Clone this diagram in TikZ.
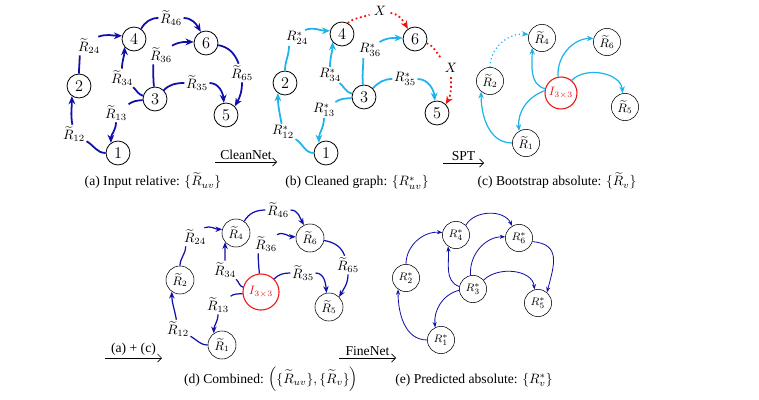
\documentclass[tikz,border=0pt]{standalone}
\usepackage{amsmath}
\usepackage{amssymb}
\usepackage[no-math]{fontspec}
\setmainfont{Liberation Serif}
\usepackage{tikz}
\usetikzlibrary{arrows.meta,positioning}
\definecolor{gblue}{RGB}{15,15,170}
\definecolor{gcyan}{RGB}{30,180,235}
\definecolor{gred}{RGB}{240,20,20}

\begin{document}
\begin{tikzpicture}[x=0.735pt,y=-0.735pt,
  vtx/.style={circle,draw,semithick,minimum size=17.6pt,inner sep=0pt,font=\large},
  absvtx/.style={circle,draw,thin,minimum size=20pt,inner sep=0pt,font=\small},
  idvtx/.style={circle,draw=gred,thick,text=gred,minimum size=23.5pt,inner sep=0pt,font=\small},
  lbl/.style={inner sep=1pt},
  inA/.style={gblue,line width=1.3pt,-{Stealth[length=6pt,width=5pt]}},
  inB/.style={gcyan,line width=1.3pt,-{Stealth[length=6pt,width=5pt]}},
  outC/.style={gcyan,line width=0.9pt,-{Stealth[length=5pt,width=4pt]}},
  inD/.style={gblue,line width=0.9pt,-{Stealth[length=5pt,width=4pt]}},
  outE/.style={gblue,line width=0.6pt,-{Stealth[length=4pt,width=3pt]}},
  lost/.style={gred,dotted,line width=1.3pt},
  stage/.style={thin,-{Straight Barb[length=3pt]}},
  captxt/.style={anchor=base}]
  \useasboundingbox (0,0) rectangle (759,400);

  % (a) input relative rotations
  \node[vtx] (a1) at (118,153) {$1$};
  \node[vtx] (a2) at (79,86) {$2$};
  \node[vtx] (a3) at (155,99) {$3$};
  \node[vtx] (a4) at (134,39) {$4$};
  \node[vtx] (a5) at (226,115) {$5$};
  \node[vtx] (a6) at (206,43) {$6$};
  \node[lbl] (la12) at (74,134) {$\widetilde{R}_{12}$};
  \node[lbl] (la24) at (89,46) {$\widetilde{R}_{24}$};
  \node[lbl] (la46) at (171,18) {$\widetilde{R}_{46}$};
  \node[lbl] (la34) at (122,78) {$\widetilde{R}_{34}$};
  \node[lbl] (la36) at (161,55) {$\widetilde{R}_{36}$};
  \node[lbl] (la35) at (197,83) {$\widetilde{R}_{35}$};
  \node[lbl] (la13) at (116,113) {$\widetilde{R}_{13}$};
  \node[lbl] (la65) at (242,73) {$\widetilde{R}_{65}$};
  \draw[inA] (a1) to[out=180,in=-30] (la12) to[out=100,in=-90] (a2.-125);
  \draw[inA] (a2) to[out=90,in=-90] (la24.-135) (la24.45) to[out=20,in=180] (a4.165);
  \draw[inA] (a4.55) to[out=60,in=180] (la46) to[out=0,in=120] (a6.115);
  \draw[inA] (a3) to[out=165,in=-40] (la34) to[out=90,in=-90] (a4.-140);
  \draw[inA] (a3) to[out=185,in=35] (la13) to[out=-90,in=90] (a1.125);
  \draw[inA] (a3) to[out=95,in=-90] (la36.-130) (la36.40) to[out=30,in=180] (a6.175);
  \draw[inA] (a3) to[out=45,in=180] (la35) to[out=0,in=95] (a5.100);
  \draw[inA] (a6) to[out=-10,in=110] (la65) to[out=-90,in=60] (a5.45);
  \node[captxt] (capA) at (153,186) {(a) Input relative: $\{\widetilde{R}_{uv}\}$};

  % (b) cleaned graph
  \begin{scope}[shift={(208,-3)}]
    \node[vtx] (b1) at (118,156) {$1$};
    \node[vtx] (b2) at (77,86) {$2$};
    \node[vtx] (b3) at (156,100) {$3$};
    \node[vtx] (b4) at (134,37) {$4$};
    \node[vtx] (b5) at (229,116) {$5$};
    \node[vtx] (b6) at (207,42) {$6$};
    \node[lbl] (lb12) at (75,135) {$R^*_{12}$};
    \node[lbl] (lb24) at (89,41) {$R^*_{24}$};
    \node[lbl] (lb34) at (122,78) {$R^*_{34}$};
    \node[lbl] (lb36) at (162,53) {$R^*_{36}$};
    \node[lbl] (lb35) at (197,82) {$R^*_{35}$};
    \node[lbl] (lb13) at (116,113) {$R^*_{13}$};
    \node[lbl,inner sep=3pt] (bx1) at (172,14) {$X$};
    \node[lbl,inner sep=3pt] (bx2) at (243,71) {$X$};
    \draw[inB] (b1) to[out=180,in=-30] (lb12) to[out=100,in=-90] (b2.-125);
    \draw[inB] (b2) to[out=90,in=-90] (lb24.-135) (lb24.45) to[out=20,in=180] (b4.165);
    \draw[inB] (b3) to[out=165,in=-40] (lb34) to[out=90,in=-90] (b4.-140);
    \draw[inB] (b3) to[out=185,in=35] (lb13) to[out=-90,in=90] (b1.125);
    \draw[inB] (b3) to[out=95,in=-90] (lb36.-130) (lb36.40) to[out=30,in=180] (b6.175);
    \draw[inB] (b3) to[out=45,in=180] (lb35) to[out=0,in=95] (b5.100);
    % dropped edges
    \draw[lost] (b4.62) to[out=40,in=200] (bx1);
    \draw[lost,-{Stealth[length=6pt,width=5pt]}] (bx1) to[out=-10,in=120] (b6.125);
    \draw[lost] (b6) to[out=-20,in=135] (bx2);
    \draw[lost,-{Stealth[length=6pt,width=5pt]}] (bx2) to[out=-90,in=60] (b5.45);
  \end{scope}
  \node[captxt] (capB) at (357,186) {(b) Cleaned graph: $\{R^*_{uv}\}$};

  % (c) bootstrap absolute rotations
  \node[absvtx] (c4) at (542,38) {$\widetilde{R}_4$};
  \node[absvtx] (c6) at (607,42) {$\widetilde{R}_6$};
  \node[absvtx] (c2) at (490,81) {$\widetilde{R}_2$};
  \node[idvtx] (cI) at (561,93) {$I_{3\times3}$};
  \node[absvtx] (c5) at (625,107) {$\widetilde{R}_5$};
  \node[absvtx] (c1) at (526,143) {$\widetilde{R}_1$};
  \draw[outC] (cI.165) to[out=165,in=-90] (c4.-135);
  \draw[outC] (cI.172) to[out=200,in=95] (c1.120);
  \draw[outC] (c1) to[out=180,in=-90] (c2.-130);
  \draw[outC,dotted] (c2) to[out=90,in=175] (c4.165);
  \draw[outC] (cI.100) to[out=95,in=180] (c6.165);
  \draw[outC] (cI.50) to[out=45,in=95] (c5.100);
  \node[captxt] (capC) at (557,186) {(c) Bootstrap absolute: $\{\widetilde{R}_v\}$};

  % (d) combined graph
  \begin{scope}[shift={(104,192)}]
    \node[absvtx,minimum size=20.6pt] (d1) at (118,153) {$\widetilde{R}_1$};
    \node[absvtx,minimum size=20.6pt] (d2) at (76,88) {$\widetilde{R}_2$};
    \node[idvtx,minimum size=26.5pt] (dI) at (157,100) {$I_{3\times3}$};
    \node[absvtx,minimum size=20.6pt] (d4) at (132,41) {$\widetilde{R}_4$};
    \node[absvtx,minimum size=20.6pt] (d5) at (225,115) {$\widetilde{R}_5$};
    \node[absvtx,minimum size=20.6pt] (d6) at (206,46) {$\widetilde{R}_6$};
    \node[lbl] (ld12) at (74,137) {$\widetilde{R}_{12}$};
    \node[lbl] (ld24) at (91,45) {$\widetilde{R}_{24}$};
    \node[lbl] (ld46) at (174,18) {$\widetilde{R}_{46}$};
    \node[lbl] (ld34) at (121,78) {$\widetilde{R}_{34}$};
    \node[lbl] (ld36) at (162,52) {$\widetilde{R}_{36}$};
    \node[lbl] (ld35) at (199,81) {$\widetilde{R}_{35}$};
    \node[lbl] (ld13) at (114,113) {$\widetilde{R}_{13}$};
    \node[lbl] (ld65) at (244,73) {$\widetilde{R}_{65}$};
    \draw[inD] (d1) to[out=180,in=-30] (ld12) to[out=100,in=-90] (d2.-125);
    \draw[inD] (d2) to[out=90,in=-90] (ld24.-135) (ld24.45) to[out=20,in=180] (d4.165);
    \draw[inD] (d4.55) to[out=60,in=180] (ld46) to[out=0,in=120] (d6.115);
    \draw[inD] (dI) to[out=165,in=-40] (ld34) to[out=90,in=-90] (d4.-140);
    \draw[inD] (dI) to[out=185,in=35] (ld13) to[out=-90,in=90] (d1.125);
    \draw[inD] (dI) to[out=95,in=-90] (ld36.-130) (ld36.40) to[out=30,in=180] (d6.175);
    \draw[inD] (dI) to[out=45,in=180] (ld35) to[out=0,in=95] (d5.100);
    \draw[inD] (d6) to[out=-10,in=110] (ld65) to[out=-90,in=60] (d5.45);
  \end{scope}
  \node[captxt] (capD) at (271,383) {(d) Combined: $\Big(\{\widetilde{R}_{uv}\},\{\widetilde{R}_v\}\Big)$};

  % (e) predicted absolute rotations
  \node[absvtx,font=\footnotesize] (e4) at (456,235) {$R^*_4$};
  \node[absvtx,font=\footnotesize] (e6) at (519,238) {$R^*_6$};
  \node[absvtx,font=\footnotesize] (e2) at (406,278) {$R^*_2$};
  \node[absvtx,font=\footnotesize] (e3) at (473,289) {$R^*_3$};
  \node[absvtx,font=\footnotesize] (e5) at (538,303) {$R^*_5$};
  \node[absvtx,font=\footnotesize] (e1) at (441,340) {$R^*_1$};
  \draw[outE] (e1) to[out=180,in=-90] (e2.-125);
  \draw[outE] (e2) to[out=90,in=175] (e4.170);
  \draw[outE] (e4.45) to[out=60,in=115] (e6.120);
  \draw[outE] (e3.170) to[out=160,in=-85] (e4.-125);
  \draw[outE] (e3.185) to[out=195,in=95] (e1.115);
  \draw[outE] (e3.100) to[out=95,in=180] (e6.175);
  \draw[outE] (e3.40) to[out=45,in=95] (e5.105);
  \draw[outE] (e6.-15) to[out=-5,in=75,looseness=1.4] (e5.50);
  \node[captxt] (capE) at (474,383) {(e) Predicted absolute: $\{R^*_v\}$};

  % stage arrows
  \coordinate (s1a) at (215,162);
  \coordinate (s1b) at (277,162);
  \draw[stage] (s1a) -- node[above,inner sep=1.5pt] (t1) {CleanNet} (s1b);
  \coordinate (s2a) at (443,163);
  \coordinate (s2b) at (484,163);
  \draw[stage] (s2a) -- node[above,inner sep=1.5pt] (t2) {SPT} (s2b);
  \coordinate (s3a) at (105,358);
  \coordinate (s3b) at (162,358);
  \draw[stage] (s3a) -- node[above,inner sep=1.5pt] (t3) {(a) + (c)} (s3b);
  \coordinate (s4a) at (339,358);
  \coordinate (s4b) at (396,358);
  \draw[stage] (s4a) -- node[above,inner sep=1.5pt] (t4) {FineNet} (s4b);
\end{tikzpicture}
\end{document}
